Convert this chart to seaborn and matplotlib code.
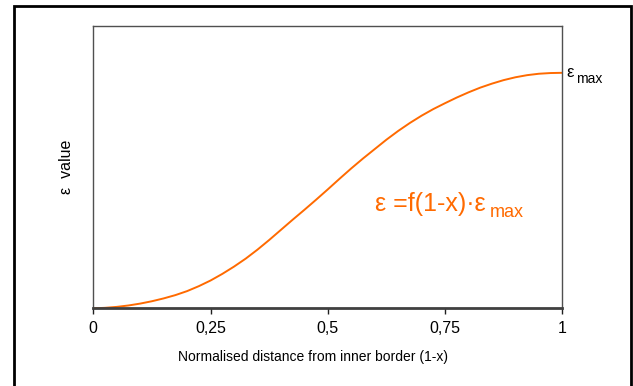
import numpy as np
import pandas as pd
import matplotlib
matplotlib.use("Agg")
import matplotlib.pyplot as plt
import seaborn as sns
from matplotlib.patches import Rectangle

# valores (eps / eps_max em função de 1-x)
dist = [0.0, 0.025, 0.05, 0.075, 0.10, 0.125, 0.15, 0.175, 0.20, 0.225,
        0.25, 0.275, 0.30, 0.325, 0.35, 0.375, 0.40, 0.425, 0.45, 0.475,
        0.50, 0.525, 0.55, 0.575, 0.60, 0.625, 0.65, 0.675, 0.70, 0.725,
        0.75, 0.775, 0.80, 0.825, 0.85, 0.875, 0.90, 0.925, 0.95, 0.975, 1.0]
eps_rel = [0.0, 0.002, 0.006, 0.012, 0.020, 0.030, 0.042, 0.056, 0.073, 0.094,
           0.118, 0.146, 0.177, 0.211, 0.249, 0.290, 0.333, 0.376, 0.418, 0.461,
           0.505, 0.550, 0.594, 0.636, 0.676, 0.716, 0.753, 0.787, 0.818, 0.846,
           0.871, 0.895, 0.917, 0.937, 0.954, 0.969, 0.981, 0.990, 0.996, 0.999, 1.0]
tick_pos = [0, 0.25, 0.5, 0.75, 1]
tick_txt = ['0', '0,25', '0,5', '0,75', '1']

df = pd.DataFrame({'dist': dist, 'eps': eps_rel})

sns.set_theme(style='white')
plt.rcParams['font.family'] = ['Liberation Sans', 'DejaVu Sans']

laranja = '#ff6a00'

fig = plt.figure(figsize=(6.33, 3.86), dpi=100)
ax = fig.add_axes([0.1474, 0.2013, 0.7409, 0.7321])

sns.lineplot(data=df, x='dist', y='eps', ax=ax, color=laranja, linewidth=1.4)

ax.set_xlim(0, 1)
ax.set_ylim(0, 1.2)
ax.set_xticks(tick_pos)
ax.set_xticklabels(tick_txt, fontsize=11.5, color='black')
ax.set_yticks([])
ax.tick_params(axis='x', direction='out', length=4, width=1, color='#202020',
               bottom=True, pad=5)

for lado in ['top', 'right', 'left']:
    ax.spines[lado].set_color('#505050')
    ax.spines[lado].set_linewidth(1.0)
ax.spines['bottom'].set_color('#404040')
ax.spines['bottom'].set_linewidth(2.0)

ax.set_xlabel('Normalised distance from inner border (1-x)', fontsize=10,
              color='black')
ax.xaxis.set_label_coords(0.468, -0.148)
ax.set_ylabel('\u03b5  value', fontsize=11.5, color='black', labelpad=14)

# rótulo eps_max na ponta da curva
t1 = ax.text(1.008, eps_rel[-1], '\u03b5', fontsize=12, color='black',
             transform=ax.get_yaxis_transform(), va='center', ha='left')
ax.annotate('max', xy=(1, 0), xycoords=t1, xytext=(2, -4),
            textcoords='offset points', fontsize=10, color='black',
            va='bottom', ha='left')

# fórmula
t2 = ax.text(0.60, 0.345, '\u03b5 =f(1-x)\u00b7\u03b5', fontsize=18, color=laranja,
             transform=ax.transAxes, va='baseline', ha='left')
ax.annotate('max', xy=(1, 0), xycoords=t2, xytext=(3, -4),
            textcoords='offset points', fontsize=13, color=laranja,
            va='bottom', ha='left')

# moldura externa
fig.patches.append(Rectangle((0.022, -0.1), 0.975, 1.0845, transform=fig.transFigure,
                             fill=False, edgecolor='black', linewidth=2))

fig.savefig('out.png', dpi=100)
